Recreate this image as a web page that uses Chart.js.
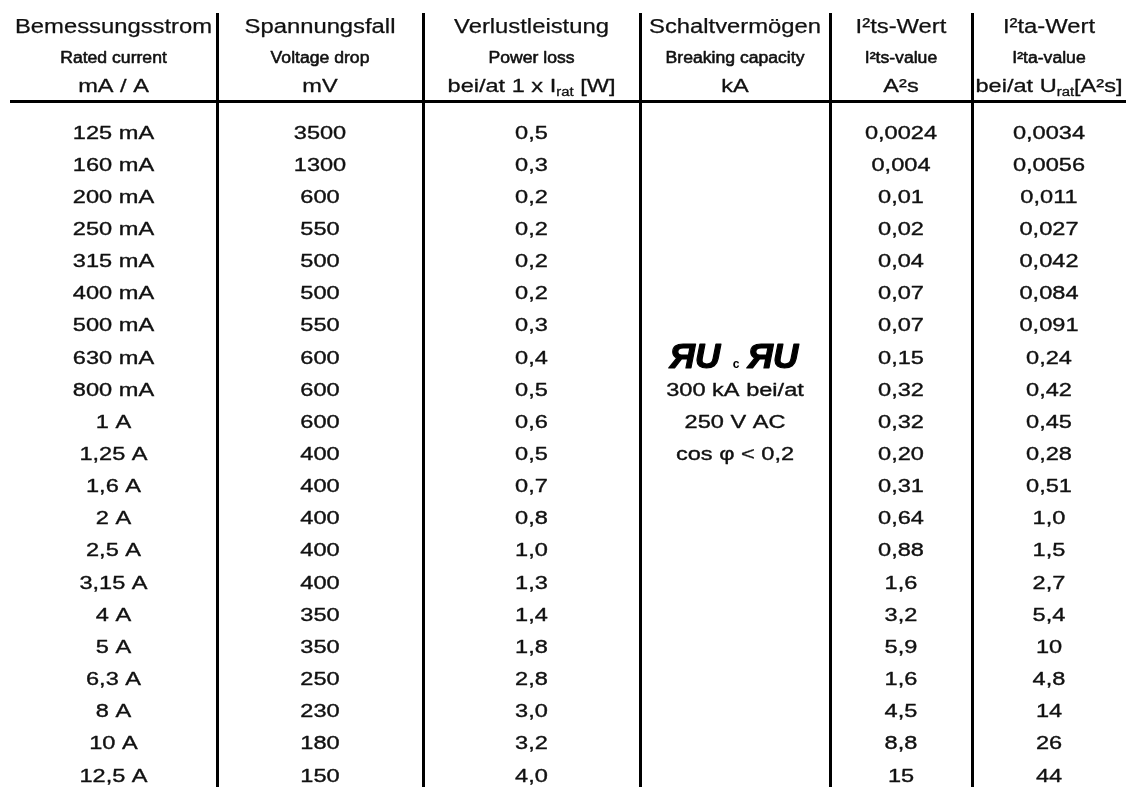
<!DOCTYPE html>
<html>
<head>
<meta charset="utf-8">
<script src="https://cdn.jsdelivr.net/npm/chart.js@4.4.1/dist/chart.umd.min.js"></script>
<style>
  html, body { margin: 0; padding: 0; background: #ffffff; }
  #wrap { position: relative; width: 1128px; height: 787px; }
</style>
</head>
<body>
<div id="wrap"><canvas id="c"></canvas></div>
<script>
// ---------- DATA ----------
const headerDE   = ['Bemessungsstrom', 'Spannungsfall', 'Verlustleistung', 'Schaltvermögen', 'I²ts-Wert', 'I²ta-Wert'];
const headerEN   = ['Rated current', 'Voltage drop', 'Power loss', 'Breaking capacity', 'I²ts-value', 'I²ta-value'];
const headerUnit = ['mA / A', 'mV', 'bei/at 1 x I_{rat} [W]', 'kA', 'A²s', 'bei/at U_{rat}[A²s]'];

const ratedCurrent = ['125 mA', '160 mA', '200 mA', '250 mA', '315 mA', '400 mA', '500 mA', '630 mA', '800 mA',
                      '1 A', '1,25 A', '1,6 A', '2 A', '2,5 A', '3,15 A', '4 A', '5 A', '6,3 A', '8 A', '10 A', '12,5 A'];
const voltageDrop  = [3500, 1300, 600, 550, 500, 500, 550, 600, 600, 600, 400, 400, 400, 400, 400, 350, 350, 250, 230, 180, 150];
const powerLoss    = [0.5, 0.3, 0.2, 0.2, 0.2, 0.2, 0.3, 0.4, 0.5, 0.6, 0.5, 0.7, 0.8, 1.0, 1.3, 1.4, 1.8, 2.8, 3.0, 3.2, 4.0];
const breakingCapacity = [null, null, null, null, null, null, null, '[UL]', '300 kA bei/at', '250 V AC', 'cos φ < 0,2',
                          null, null, null, null, null, null, null, null, null, null];
const i2tsValue    = ['0,0024', '0,004', '0,01', '0,02', '0,04', '0,07', '0,07', '0,15', '0,32', '0,32', '0,20',
                      '0,31', '0,64', '0,88', '1,6', '3,2', '5,9', '1,6', '4,5', '8,8', '15'];
const i2taValue    = ['0,0034', '0,0056', '0,011', '0,027', '0,042', '0,084', '0,091', '0,24', '0,42', '0,45', '0,28',
                      '0,51', '1,0', '1,5', '2,7', '5,4', '10', '4,8', '14', '26', '44'];

// ---------- LAYOUT (table column edges in x-scale units) ----------
const colEdges = [10, 217, 423, 640, 830, 972, 1126];
const colCenter = k => (colEdges[k] + colEdges[k + 1]) / 2;

const FAMILY = '"Liberation Sans", Arial, sans-serif';
const INK = '#111111';

const fmtComma = (v, d) => v.toFixed(d).replace('.', ',');

const columns = [
  ratedCurrent,
  voltageDrop.map(v => String(v)),
  powerLoss.map(v => fmtComma(v, 1)),
  breakingCapacity,
  i2tsValue,
  i2taValue
];

const datasets = columns.map((col, k) => {
  const pts = [], txt = [];
  col.forEach((t, i) => {
    if (t === null || t === undefined) return;
    pts.push({ x: colCenter(k), y: ratedCurrent[i] });
    txt.push(t);
  });
  return { label: headerDE[k], data: pts, cellText: txt, pointRadius: 0, pointHoverRadius: 0, showLine: false };
});

// ---------- drawing helpers ----------
function parseRich(str) {
  const segs = [];
  const re = /_\{([^}]*)\}/g;
  let last = 0, m;
  while ((m = re.exec(str)) !== null) {
    if (m.index > last) segs.push({ t: str.slice(last, m.index), sub: false });
    segs.push({ t: m[1], sub: true });
    last = re.lastIndex;
  }
  if (last < str.length) segs.push({ t: str.slice(last), sub: false });
  return segs;
}

function drawRich(ctx, str, cx, baseline, size, sx, stroke) {
  const segs = parseRich(str);
  const subSize = Math.round(size * 0.62);
  let total = 0;
  segs.forEach(s => {
    ctx.font = `normal ${s.sub ? subSize : size}px ${FAMILY}`;
    s.w = ctx.measureText(s.t).width * sx;
    total += s.w;
  });
  let x = cx - total / 2;
  segs.forEach(s => {
    ctx.save();
    ctx.translate(x, baseline + (s.sub ? size * 0.22 : 0));
    ctx.scale(sx, 1);
    ctx.font = `normal ${s.sub ? subSize : size}px ${FAMILY}`;
    ctx.textAlign = 'left';
    ctx.textBaseline = 'alphabetic';
    ctx.fillStyle = INK;
    ctx.fillText(s.t, 0, 0);
    if (stroke) {
      ctx.strokeStyle = INK;
      ctx.lineWidth = stroke;
      ctx.lineJoin = 'round';
      ctx.strokeText(s.t, 0, 0);
    }
    ctx.restore();
    x += s.w;
  });
}

function drawULMark(ctx, cx, cy) {
  ctx.save();
  ctx.fillStyle = '#000';
  ctx.strokeStyle = '#000';
  ctx.lineWidth = 1.2;
  ctx.lineJoin = 'round';
  ctx.textBaseline = 'alphabetic';
  ctx.textAlign = 'center';
  const drawMark = (x) => {
    ctx.save();
    ctx.translate(x, cy + 11);
    ctx.scale(1.0, 1);
    ctx.font = `italic bold 35px ${FAMILY}`;
    ctx.fillText('ЯU', 0, 0);
    ctx.strokeText('ЯU', 0, 0);
    ctx.restore();
  };
  drawMark(cx - 40);
  ctx.font = `bold 12px ${FAMILY}`;
  ctx.fillText('c', cx + 1, cy + 11);
  drawMark(cx + 38);
  ctx.restore();
}

const tablePlugin = {
  id: 'tableText',
  afterDatasetsDraw(chart) {
    const ctx = chart.ctx;
    const xs = chart.scales.x;
    // rules
    ctx.save();
    ctx.strokeStyle = '#000';
    ctx.lineWidth = 3;
    colEdges.slice(1, -1).forEach(e => {
      const px = Math.round(xs.getPixelForValue(e)) + 0.5;
      ctx.beginPath(); ctx.moveTo(px, 13); ctx.lineTo(px, chart.height); ctx.stroke();
    });
    ctx.beginPath();
    ctx.moveTo(xs.getPixelForValue(colEdges[0]), 101.5);
    ctx.lineTo(xs.getPixelForValue(colEdges[colEdges.length - 1]), 101.5);
    ctx.stroke();
    ctx.restore();

    // header
    headerDE.forEach((t, k) => {
      const cx = xs.getPixelForValue(colCenter(k));
      drawRich(ctx, t, cx, 33, 20, 1.19, 0.25);
      drawRich(ctx, headerEN[k], cx, 63, 16, 1.1, 0.55);
      drawRich(ctx, headerUnit[k], cx, 91.5, 19, 1.24, 0.3);
    });

    // body cells
    chart.data.datasets.forEach((ds, di) => {
      const meta = chart.getDatasetMeta(di);
      meta.data.forEach((el, i) => {
        const t = ds.cellText[i];
        if (t === '[UL]') { drawULMark(ctx, el.x, el.y); return; }
        drawRich(ctx, t, el.x, el.y + 6.5, 18, 1.31, 0.35);
      });
    });
  }
};

new Chart(document.getElementById('c'), {
  type: 'scatter',
  data: { datasets },
  options: {
    responsive: true,
    maintainAspectRatio: false,
    animation: false,
    events: [],
    layout: { padding: { top: 132, bottom: 12, left: 0, right: 0 } },
    plugins: { legend: { display: false }, tooltip: { enabled: false } },
    scales: {
      x: { type: 'linear', min: 0, max: 1128, display: false },
      y: { type: 'category', labels: ratedCurrent, offset: false, display: false }
    }
  },
  plugins: [tablePlugin]
});
</script>
</body>
</html>
